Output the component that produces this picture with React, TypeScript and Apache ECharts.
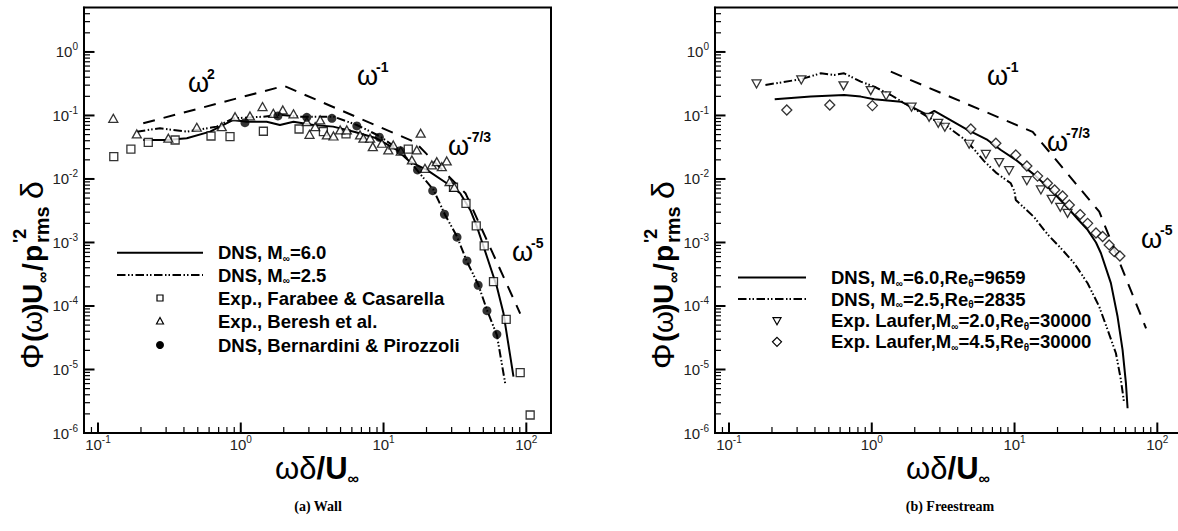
import React, { useEffect, useRef } from 'react';
import * as echarts from 'echarts';

// ---------- axis extents / ticks ----------
const X_MIN = 0.0798; // 10^-1.098
const X_MAX = 148.9; // 10^2.173
const Y_MIN = 1e-6;
const Y_MAX = 5.01; // 10^0.7
const X_MAJOR = [0.1, 1, 10, 100];
const X_MINOR = [0.09, 0.2, 0.3, 0.4, 0.5, 0.6, 0.7, 0.8, 0.9, 2, 3, 4, 5, 6, 7, 8, 9, 20, 30, 40, 50, 60, 70, 80, 90];
const Y_MAJOR = [1e-6, 1e-5, 1e-4, 1e-3, 1e-2, 1e-1, 1];
const Y_MINOR = [
  2e-6, 3e-6, 4e-6, 5e-6, 6e-6, 7e-6, 8e-6, 9e-6,
  2e-5, 3e-5, 4e-5, 5e-5, 6e-5, 7e-5, 8e-5, 9e-5,
  2e-4, 3e-4, 4e-4, 5e-4, 6e-4, 7e-4, 8e-4, 9e-4,
  0.002, 0.003, 0.004, 0.005, 0.006, 0.007, 0.008, 0.009,
  0.02, 0.03, 0.04, 0.05, 0.06, 0.07, 0.08, 0.09,
  0.2, 0.3, 0.4, 0.5, 0.6, 0.7, 0.8, 0.9,
  2, 3, 4,
];

// ---------- (a) Wall ----------
const wallDnsM60 = [
  [0.2075, 0.0411], [0.303, 0.0411], [0.419, 0.0438], [0.61, 0.0556], [0.887, 0.0849], [1.1, 0.0798],
  [1.52, 0.0798], [1.88, 0.0708], [2.34, 0.0798], [3.23, 0.0708], [4.44, 0.0667], [6.31, 0.055],
  [8.91, 0.0437], [12.4, 0.0286], [15.3, 0.0187], [20.1, 0.0139], [27.7, 0.00855], [34.4, 0.00596],
  [40.5, 0.00325], [45.1, 0.00177], [53.0, 0.000597], [62.2, 0.000201], [69.2, 7.67e-5], [81.3, 7.7e-6],
];
const wallDnsM25 = [
  [0.187, 0.0556], [0.272, 0.0628], [0.419, 0.0556], [0.679, 0.0667], [0.887, 0.0902], [1.44, 0.0957],
  [1.88, 0.102], [2.61, 0.0957], [4.46, 0.0957], [6.5, 0.0708], [9.46, 0.0468], [13.1, 0.0279],
  [17.1, 0.0139], [22.4, 0.00671], [27.0, 0.00271], [32.7, 0.00124], [38.4, 0.000499], [46.2, 0.000214],
  [53.0, 8.65e-5], [62.2, 3.49e-5], [71.1, 6.07e-6],
];
const wallFarabee = [
  [0.129, 0.0225], [0.17, 0.0296], [0.225, 0.0378], [0.347, 0.0411], [0.619, 0.0475], [0.841, 0.0465],
  [1.44, 0.0564], [2.56, 0.0612], [3.79, 0.0556], [5.46, 0.0513], [14.9, 0.0294], [30.9, 0.00741],
  [37.8, 0.00414], [44.6, 0.00182], [50.7, 0.000881], [58.9, 0.000242], [72.3, 6.17e-5], [90.6, 8.9e-6],
  [106.4, 1.92e-6],
];
const wallBeresh = [
  [0.128, 0.0902], [0.187, 0.0512], [0.311, 0.0438], [0.492, 0.0652], [0.736, 0.0667], [0.912, 0.0957],
  [1.16, 0.0982], [1.42, 0.138], [1.69, 0.108], [1.97, 0.122], [2.34, 0.106], [2.9, 0.0798],
  [3.03, 0.0505], [3.32, 0.0667], [3.6, 0.0849], [4.01, 0.0493], [4.46, 0.0475], [4.97, 0.0592],
  [5.53, 0.0592], [6.85, 0.0493], [7.23, 0.0438], [8.05, 0.0438], [8.41, 0.0323], [9.73, 0.0365],
  [10.8, 0.0286], [11.7, 0.0343], [13.2, 0.0275], [15.8, 0.0199], [17.1, 0.0286], [18.2, 0.0525],
  [19.5, 0.0147], [21.8, 0.0166], [23.6, 0.0187], [25.6, 0.0156], [27.7, 0.0192], [29.0, 0.00908],
  [31.3, 0.0074],
];
const wallBernardini = [
  [1.07, 0.0771], [1.82, 0.0982], [2.9, 0.0935], [4.35, 0.0902], [6.5, 0.0684], [9.35, 0.0454],
  [13.1, 0.0279], [17.3, 0.0139], [22.1, 0.00655], [26.7, 0.00278], [32.7, 0.00121], [38.4, 0.000512],
  [46.0, 0.000212], [53.0, 8.43e-5], [62.2, 3.58e-5],
];
const wallSlopes = [[0.2075, 0.0753], [2.01, 0.292], [16.6, 0.038], [37.6, 0.00589], [90.6, 7.59e-5]];

// ---------- (b) Freestream ----------
const freeDnsM60 = [
  [0.209, 0.18], [0.374, 0.198], [0.64, 0.21], [0.838, 0.198], [1.04, 0.18], [1.6, 0.165], [1.98, 0.13],
  [2.45, 0.102], [2.74, 0.118], [3.39, 0.0902], [4.69, 0.0592], [6.47, 0.0411], [8.02, 0.0286],
  [10.2, 0.02], [13.7, 0.0117], [17.9, 0.00676], [23.5, 0.00355], [28.2, 0.00224], [32.5, 0.00158],
  [37.2, 0.001], [40.3, 0.000676], [47.3, 0.000229], [52.7, 6.76e-5], [57.1, 2.04e-5], [60.3, 6.03e-6],
  [61.9, 2.45e-6],
];
const freeDnsM25 = [
  [0.18, 0.302], [0.318, 0.372], [0.44, 0.461], [0.545, 0.435], [0.64, 0.461], [0.838, 0.341], [1.04, 0.284],
  [1.36, 0.21], [1.78, 0.146], [2.45, 0.0957], [3.39, 0.0667], [4.69, 0.0387], [6.12, 0.0191], [7.41, 0.0126],
  [9.42, 0.00855], [10.0, 0.00631], [10.2, 0.00467], [13.7, 0.00251], [17.0, 0.00135], [21.1, 0.000813],
  [26.2, 0.00047], [32.5, 0.000228], [39.2, 9.75e-5], [44.9, 4.19e-5], [51.3, 1.8e-5], [55.6, 6.84e-6],
  [58.6, 2.93e-6],
];
const freeLaufer20 = [
  [0.156, 0.313], [0.321, 0.362], [0.634, 0.292], [0.984, 0.246], [1.26, 0.203], [1.9, 0.135],
  [2.52, 0.0935], [2.92, 0.0753], [3.25, 0.0652], [4.81, 0.0352], [6.3, 0.0243], [7.8, 0.0181],
  [9.16, 0.0135], [12.2, 0.0094], [15.3, 0.00671], [18.2, 0.00479], [20.9, 0.00358], [23.5, 0.00288],
];
const freeLaufer45 = [
  [0.254, 0.122], [0.508, 0.146], [1.01, 0.143], [4.94, 0.0612], [7.4, 0.0365], [10.2, 0.0239],
  [12.2, 0.016], [14.5, 0.0111], [17.0, 0.00855], [19.1, 0.00671], [21.7, 0.0054], [24.2, 0.0039],
  [28.8, 0.00275], [32.5, 0.002], [37.2, 0.00141], [41.4, 0.00124], [46.0, 0.000914], [49.9, 0.000716],
  [54.7, 0.000612],
];
const freeSlopes = [[1.36, 0.49], [13.4, 0.0551], [39.2, 0.00305], [83.4, 4.45e-5]];

// ---------- texts ----------
const wallLegend = [
  '{b|DNS, M}{s|∞}{b|=6.0}',
  '{b|DNS, M}{s|∞}{b|=2.5}',
  '{b|Exp., Farabee & Casarella}',
  '{b|Exp., Beresh et al.}',
  '{b|DNS, Bernardini & Pirozzoli}',
];
const freeLegend = [
  '{b|DNS, M}{s|∞}{b|=6.0,Re}{s|θ}{b|=9659}',
  '{b|DNS, M}{s|∞}{b|=2.5,Re}{s|θ}{b|=2835}',
  '{b|Exp. Laufer,M}{s|∞}{b|=2.0,Re}{s|θ}{b|=30000}',
  '{b|Exp. Laufer,M}{s|∞}{b|=4.5,Re}{s|θ}{b|=30000}',
];
const wallSlopeLabels = ['2', '-1', '-7/3', '-5'];
const freeSlopeLabels = ['-1', '-7/3', '-5'];
const captions = ['(a) Wall', '(b) Freestream'];

const FONT = '"Liberation Sans", Arial, Helvetica, sans-serif';
const DASHDOT = [8.5, 2.5, 1.5, 2, 1.5, 2.5];
const DASH = [12, 9];

const GRID_W = 467;
const GRID_H = 425.5;
const GRIDS = [{ left: 84, top: 7.5 }, { left: 715, top: 7.5 }];

function labelFormatter(v: number) {
  const e = Math.log10(v);
  const r = Math.round(e);
  if (Math.abs(e - r) > 0.02) return '';
  return `{b|10}{s|${r}}`;
}
const labelRich = {
  b: { fontSize: 15, lineHeight: 20, color: '#222', fontFamily: FONT },
  s: { fontSize: 10, lineHeight: 8, verticalAlign: 'top', color: '#222', fontFamily: FONT },
};

function tickScatter(i: number, data: number[][], size: number[], offset: number[]) {
  return {
    type: 'scatter',
    xAxisIndex: i,
    yAxisIndex: i,
    data,
    symbol: 'rect',
    symbolSize: size,
    symbolOffset: offset,
    silent: true,
    clip: false,
    z: 6,
    itemStyle: { color: '#000', borderWidth: 0, opacity: 1 },
  };
}

function tickSeriesList(i: number) {
  return [
    tickScatter(i, X_MAJOR.map((v) => [v, Y_MIN]), [2, 10.5], [0, -5.25]),
    tickScatter(i, X_MINOR.map((v) => [v, Y_MIN]), [1.2, 6], [0, -3]),
    tickScatter(i, Y_MAJOR.map((v) => [X_MIN, v]), [10.5, 2], [5.25, 0]),
    tickScatter(i, Y_MINOR.map((v) => [X_MIN, v]), [6, 1.2], [3, 0]),
  ];
}

function lineSeries(i: number, data: number[][], type: any, z = 3) {
  return {
    type: 'line',
    xAxisIndex: i,
    yAxisIndex: i,
    data,
    symbol: 'none',
    showSymbol: false,
    silent: true,
    z,
    lineStyle: { color: '#000', width: 2, type },
  };
}

function scatterSeries(i: number, data: number[][], symbol: string, size: any, filled: boolean, rotate = 0) {
  return {
    type: 'scatter',
    xAxisIndex: i,
    yAxisIndex: i,
    data,
    symbol,
    symbolSize: size,
    symbolRotate: rotate,
    silent: true,
    z: 4,
    itemStyle: filled
      ? { color: '#000', borderColor: '#000', borderWidth: 0 }
      : { color: '#fff', borderColor: '#000', borderWidth: 1.3 },
  };
}

const legendRich = {
  b: { fontSize: 18.5, fontWeight: 'bold', fontFamily: FONT, color: '#000', lineHeight: 21 },
  s: { fontSize: 10, fontWeight: 'bold', fontFamily: FONT, color: '#000', lineHeight: 10, verticalAlign: 'bottom' },
};

function legendText(x: number, y: number, text: string) {
  return { type: 'text', x, y, style: { text, rich: legendRich, verticalAlign: 'middle', align: 'left' }, z: 50 };
}

function omega(x: number, y: number, sup: string) {
  return [
    { type: 'text', x, y, style: { text: 'ω', fontSize: 27, fontFamily: FONT, fill: '#000', verticalAlign: 'middle' }, z: 50 },
    { type: 'text', x: x + 19, y: y - 9, style: { text: sup, fontSize: 14, fontWeight: 'bold', fontFamily: FONT, fill: '#000', verticalAlign: 'middle' }, z: 50 },
  ];
}

function yTitle(x0: number) {
  const t = (text: string, x: number, y: number, size: number, bold: boolean) => ({
    type: 'text', x, y,
    style: { text, fontSize: size, fontWeight: bold ? 'bold' : 'normal', fontFamily: FONT, fill: '#000', verticalAlign: 'middle', align: 'left' },
  });
  return {
    type: 'group', x: x0, y: 369, rotation: Math.PI / 2, z: 50,
    children: [
      t('Φ', 0, 0, 32, false),
      t('(', 27, 0, 28, true),
      t('ω', 36, 0, 28, false),
      t(')', 56, 0, 28, true),
      t('U', 65, 0, 28, true),
      t('∞', 86, 10, 16, true),
      t('/', 98, 0, 28, true),
      t('p', 107, 0, 28, true),
      t("'2", 126, -12, 18, true),
      t('rms', 126, 10, 20, true),
      t('δ', 170, 0, 32, false),
    ],
  };
}

function xTitle(cx: number) {
  return {
    type: 'text', x: cx, y: 468, z: 50,
    style: {
      text: '{g|ωδ}{b|/U}{s|∞}',
      align: 'center', verticalAlign: 'middle',
      rich: {
        g: { fontSize: 31, fontFamily: FONT, color: '#000', lineHeight: 36 },
        b: { fontSize: 31, fontWeight: 'bold', fontFamily: FONT, color: '#000', lineHeight: 36 },
        s: { fontSize: 16, fontWeight: 'bold', fontFamily: FONT, color: '#000', lineHeight: 14, verticalAlign: 'bottom' },
      },
    },
  };
}

function buildOption() {
  const xAxes = GRIDS.map((_, i) => ({
    type: 'log', gridIndex: i, logBase: 10, min: X_MIN, max: X_MAX,
    axisLine: { show: true, onZero: false, lineStyle: { color: '#000', width: 2 } },
    axisTick: { show: false }, minorTick: { show: false }, splitLine: { show: false },
    axisLabel: { margin: 1, formatter: labelFormatter, rich: labelRich, showMinLabel: false, showMaxLabel: false },
  }));
  const yAxes = GRIDS.map((_, i) => ({
    type: 'log', gridIndex: i, logBase: 10, min: Y_MIN, max: Y_MAX,
    axisLine: { show: true, onZero: false, lineStyle: { color: '#000', width: 2 } },
    axisTick: { show: false }, minorTick: { show: false }, splitLine: { show: false },
    axisLabel: { margin: 6, formatter: labelFormatter, rich: labelRich, showMaxLabel: false },
  }));

  const lx = 117, lx2 = 203, mx = 160, tx = 218;
  const ry = [252.7, 275, 298, 321, 345];
  const rlx = 738, rlx2 = 806, rmx = 777, rtx = 831;
  const rry = [277.5, 299, 320.7, 341.8];

  const graphic: any[] = [
    // left legend
    { type: 'line', shape: { x1: lx, y1: ry[0], x2: lx2, y2: ry[0] }, style: { stroke: '#000', lineWidth: 2 }, z: 50 },
    { type: 'line', shape: { x1: lx, y1: ry[1], x2: lx2, y2: ry[1] }, style: { stroke: '#000', lineWidth: 2, lineDash: DASHDOT }, z: 50 },
    { type: 'rect', shape: { x: mx - 3, y: ry[2] - 3, width: 6, height: 6 }, style: { stroke: '#000', lineWidth: 1.2, fill: '#fff' }, z: 50 },
    { type: 'polygon', shape: { points: [[mx - 3.5, ry[3] + 3], [mx + 3.5, ry[3] + 3], [mx, ry[3] - 3.5]] }, style: { stroke: '#000', lineWidth: 1.2, fill: '#fff' }, z: 50 },
    { type: 'circle', shape: { cx: mx, cy: ry[4], r: 4 }, style: { fill: '#000' }, z: 50 },
    ...wallLegend.map((t, i) => legendText(tx, ry[i], t)),
    // right legend
    { type: 'line', shape: { x1: rlx, y1: rry[0], x2: rlx2, y2: rry[0] }, style: { stroke: '#000', lineWidth: 2 }, z: 50 },
    { type: 'line', shape: { x1: rlx, y1: rry[1], x2: rlx2, y2: rry[1] }, style: { stroke: '#000', lineWidth: 2, lineDash: DASHDOT }, z: 50 },
    { type: 'polygon', shape: { points: [[rmx - 4, rry[2] - 3], [rmx + 4, rry[2] - 3], [rmx, rry[2] + 4]] }, style: { stroke: '#000', lineWidth: 1.2, fill: '#fff' }, z: 50 },
    { type: 'polygon', shape: { points: [[rmx, rry[3] - 4.5], [rmx + 4.5, rry[3]], [rmx, rry[3] + 4.5], [rmx - 4.5, rry[3]]] }, style: { stroke: '#000', lineWidth: 1.2, fill: '#fff' }, z: 50 },
    ...freeLegend.map((t, i) => legendText(rtx, rry[i], t)),
    // slope annotations
    ...omega(188, 83, wallSlopeLabels[0]),
    ...omega(357, 76, wallSlopeLabels[1]),
    ...omega(448, 146, wallSlopeLabels[2]),
    ...omega(512, 252, wallSlopeLabels[3]),
    ...omega(987, 76, freeSlopeLabels[0]),
    ...omega(1047, 142, freeSlopeLabels[1]),
    ...omega(1141, 239, freeSlopeLabels[2]),
    // axis titles
    yTitle(32),
    yTitle(663),
    xTitle(317),
    xTitle(948),
    // captions
    { type: 'text', x: 318, y: 506, z: 50, style: { text: captions[0], fontSize: 14, fontWeight: 'bold', fontFamily: '"Liberation Serif", "Times New Roman", serif', fill: '#000', align: 'center', verticalAlign: 'middle' } },
    { type: 'text', x: 950, y: 506, z: 50, style: { text: captions[1], fontSize: 14, fontWeight: 'bold', fontFamily: '"Liberation Serif", "Times New Roman", serif', fill: '#000', align: 'center', verticalAlign: 'middle' } },
  ];

  return {
    animation: false,
    backgroundColor: '#fff',
    grid: GRIDS.map((g) => ({
      left: g.left, top: g.top, width: GRID_W, height: GRID_H,
      show: true, borderColor: '#000', borderWidth: 2, backgroundColor: 'transparent',
      containLabel: false, outerBoundsMode: 'none',
    })),
    xAxis: xAxes,
    yAxis: yAxes,
    series: [
      ...tickSeriesList(0),
      ...tickSeriesList(1),
      lineSeries(0, wallSlopes, DASH, 2),
      lineSeries(0, wallDnsM60, 'solid'),
      lineSeries(0, wallDnsM25, DASHDOT),
      scatterSeries(0, wallFarabee, 'rect', 8, false),
      scatterSeries(0, wallBeresh, 'triangle', [9, 8], false),
      scatterSeries(0, wallBernardini, 'circle', 9, true),
      lineSeries(1, freeSlopes, DASH, 2),
      lineSeries(1, freeDnsM60, 'solid'),
      lineSeries(1, freeDnsM25, DASHDOT),
      scatterSeries(1, freeLaufer20, 'triangle', [9, 8], false, 180),
      scatterSeries(1, freeLaufer45, 'diamond', [10, 10], false),
    ],
    graphic,
  };
}

export default function App() {
  const ref = useRef<HTMLDivElement>(null);
  useEffect(() => {
    if (!ref.current) return;
    const chart = echarts.init(ref.current, undefined, { renderer: 'svg' });
    chart.setOption(buildOption() as any);
    return () => chart.dispose();
  }, []);
  return (
    <div style={{ position: 'fixed', left: 0, top: 0, width: 1178, height: 531, overflow: 'hidden', background: '#fff' }}>
      <div ref={ref} style={{ width: 1190, height: 531 }} />
    </div>
  );
}
